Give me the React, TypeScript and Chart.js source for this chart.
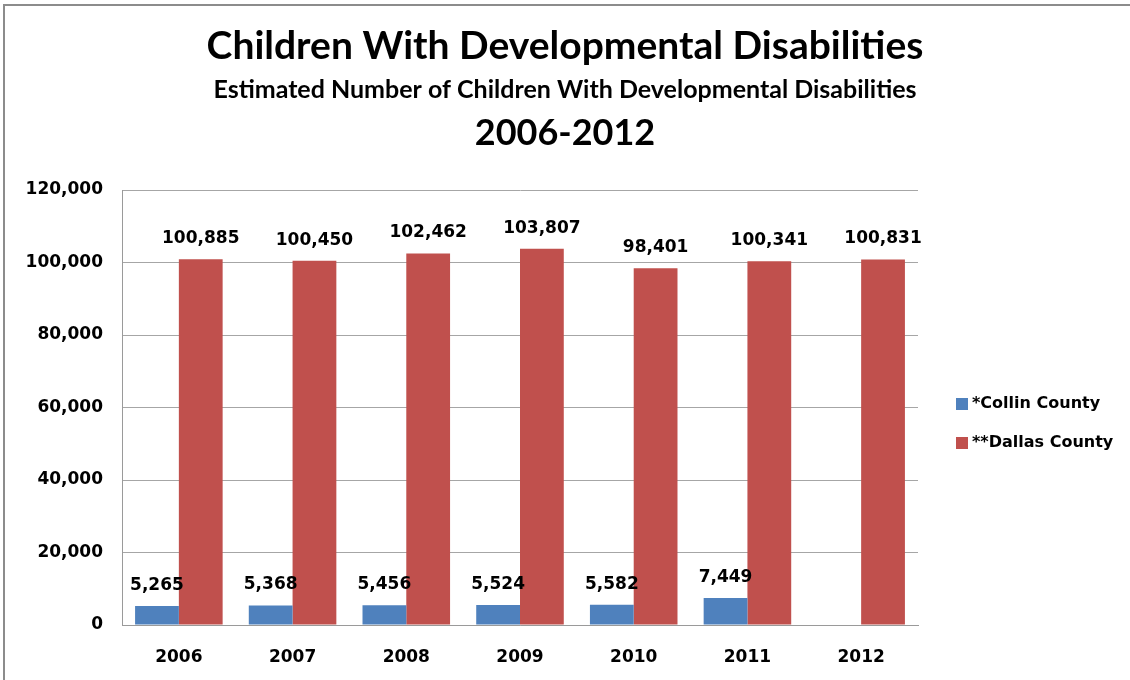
import React, { useEffect, useRef } from "react";
import { Chart, registerables } from "chart.js";

Chart.register(...registerables);

const years = ["2006", "2007", "2008", "2009", "2010", "2011", "2012"];
const collin = [5265, 5368, 5456, 5524, 5582, 7449, null];
const dallas = [100885, 100450, 102462, 103807, 98401, 100341, 100831];
const seriesNames = ["*Collin County", "**Dallas County"];
const seriesColors = ["#4F81BD", "#C0504D"];
const titleLines = [
  "Children With Developmental Disabilities",
  "Estimated Number of Children With Developmental Disabilities",
  "2006-2012",
];

const fmt = (v: number) => v.toLocaleString("en-US");
const LABEL_FONT = "bold 17px 'DejaVu Sans'";

const overlayPlugin = {
  id: "overlay",
  afterDraw(chart: any) {
    const ctx = chart.ctx;
    const w = chart.width;
    ctx.save();
    // titles
    ctx.fillStyle = "#000";
    ctx.textAlign = "center";
    ctx.textBaseline = "alphabetic";
    ctx.font = "bold 39px Lato";
    ctx.fillText(titleLines[0], w / 2, 59);
    ctx.font = "bold 25px Lato";
    ctx.fillText(titleLines[1], w / 2, 98);
    ctx.font = "bold 36px Lato";
    ctx.fillText(titleLines[2], w / 2, 145);

    // data labels
    ctx.font = LABEL_FONT;
    ctx.textBaseline = "bottom";
    chart.data.datasets.forEach((ds: any, i: number) => {
      const meta = chart.getDatasetMeta(i);
      meta.data.forEach((bar: any, j: number) => {
        const v = ds.data[j];
        if (v == null) return;
        ctx.fillText(fmt(v), bar.x, bar.y - 12);
      });
    });

    // legend
    const ca = chart.chartArea;
    ctx.textAlign = "left";
    ctx.textBaseline = "middle";
    ctx.font = "bold 16px 'DejaVu Sans'";
    const lx = ca.right + 38;
    const ly = [404, 443];
    chart.data.datasets.forEach((ds: any, i: number) => {
      ctx.fillStyle = ds.backgroundColor;
      ctx.fillRect(lx, ly[i] - 6, 12, 12);
      ctx.fillStyle = "#000";
      ctx.fillText(ds.label, lx + 16, ly[i]);
    });
    ctx.restore();
  },
};

export default function App() {
  const ref = useRef<HTMLCanvasElement>(null);
  useEffect(() => {
    if (!ref.current) return;
    const chart = new Chart(ref.current, {
      type: "bar",
      data: {
        labels: years,
        datasets: [
          {
            label: seriesNames[0],
            data: collin,
            backgroundColor: seriesColors[0],
            categoryPercentage: 0.77,
            barPercentage: 1,
          },
          {
            label: seriesNames[1],
            data: dallas,
            backgroundColor: seriesColors[1],
            categoryPercentage: 0.77,
            barPercentage: 1,
          },
        ],
      },
      options: {
        animation: false,
        responsive: false,
        maintainAspectRatio: false,
        layout: { padding: { top: 190, right: 212, left: 0, bottom: 0 } },
        plugins: {
          legend: { display: false },
          title: { display: false },
          tooltip: { enabled: false },
        },
        scales: {
          x: {
            grid: { display: false, drawTicks: false },
            border: { color: "#9a9a9a", width: 1 },
            ticks: {
              color: "#000",
              font: { family: "DejaVu Sans", weight: "bold", size: 17 },
              padding: 22,
            },
            afterFit: (s: any) => {
              s.height = 55;
            },
          },
          y: {
            min: 0,
            max: 120000,
            grid: { color: "#a6a6a6", drawTicks: false },
            border: { color: "#9a9a9a", width: 1 },
            ticks: {
              stepSize: 20000,
              color: "#000",
              font: { family: "DejaVu Sans", weight: "bold", size: 17 },
              padding: 19,
              callback: (v: any) => fmt(Number(v)),
            },
            afterFit: (s: any) => {
              s.width = 122;
            },
          },
        },
      },
      plugins: [overlayPlugin],
    });
    return () => chart.destroy();
  }, []);

  return (
    <div
      style={{
        position: "fixed",
        left: 0,
        top: 0,
        width: 1130,
        height: 680,
        background: "#fff",
        overflow: "hidden",
      }}
    >
      <div
        style={{
          position: "absolute",
          left: 3,
          top: 4,
          width: 1200,
          height: 800,
          border: "2px solid #8c8c8c",
        }}
      />
      <canvas
        ref={ref}
        width={1130}
        height={680}
        style={{ position: "absolute", left: 0, top: 0 }}
      />
    </div>
  );
}
